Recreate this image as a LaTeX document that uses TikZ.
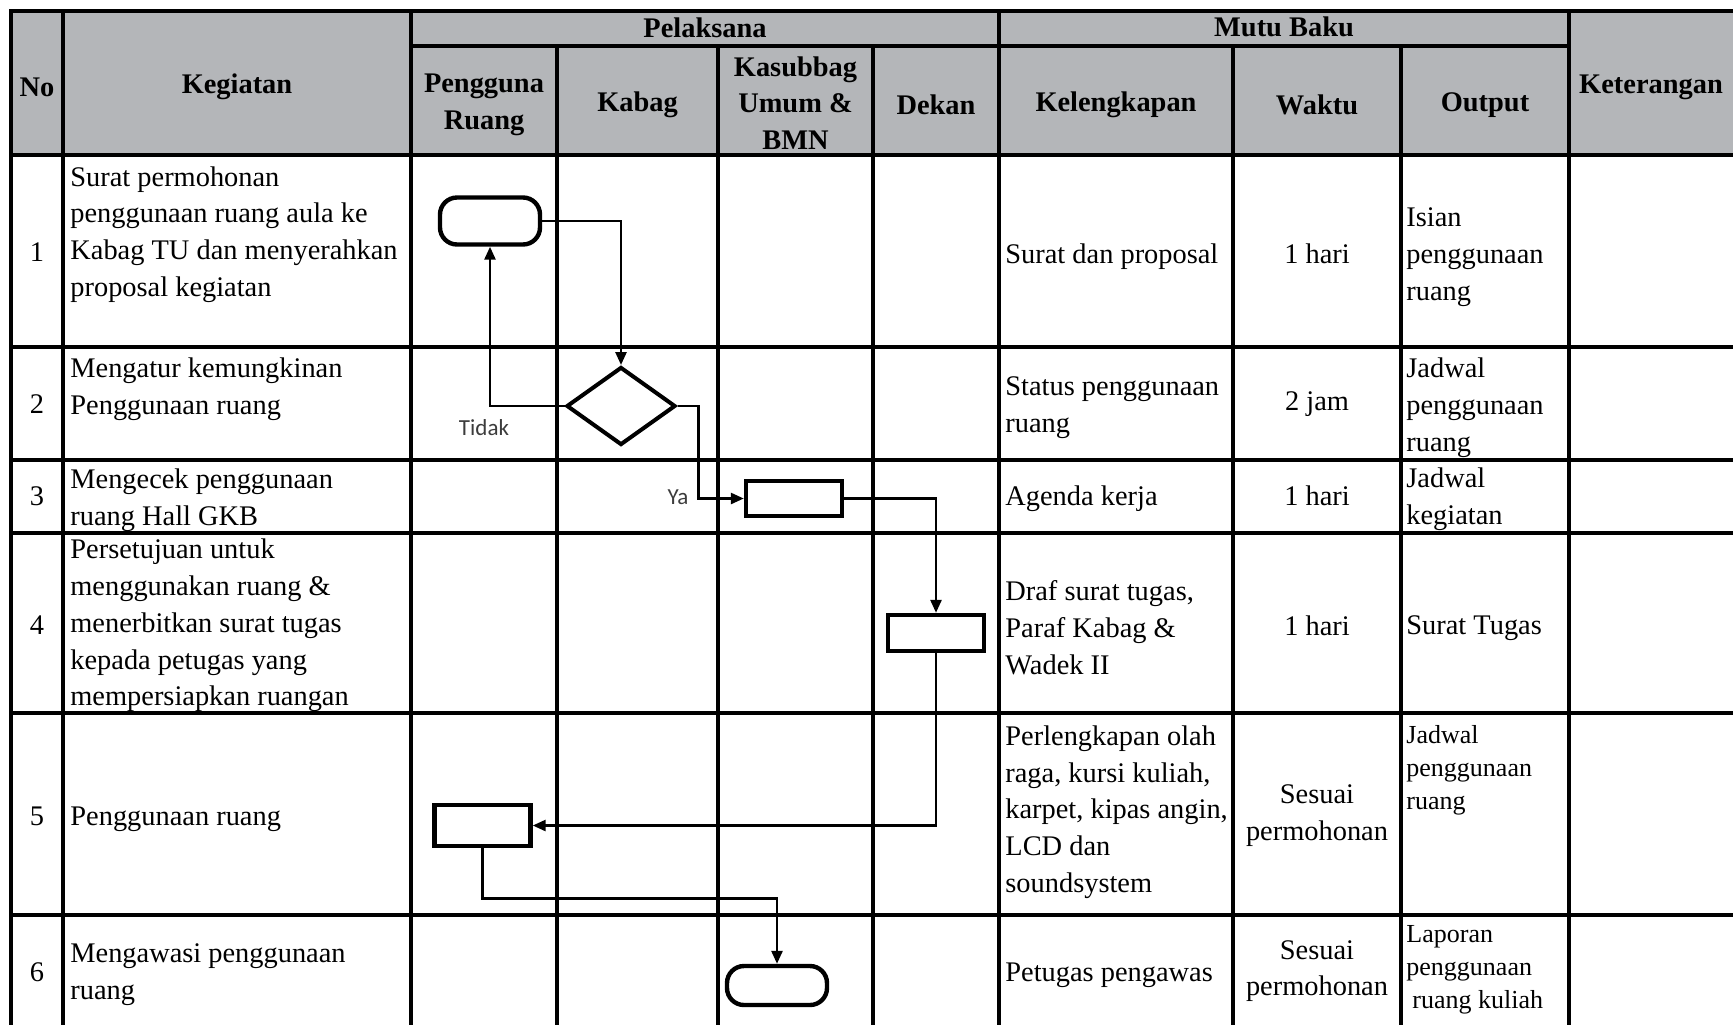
\documentclass[tikz,border=0pt]{standalone}
\usepackage{fontspec}
\setmainfont{Liberation Serif}
\newfontfamily\calibri{Carlito}
\usetikzlibrary{shapes.geometric,arrows.meta}
\definecolor{headgray}{RGB}{180,182,185}
\definecolor{labelgray}{RGB}{60,60,60}

\begin{document}
\begin{tikzpicture}[x=0.5pt,y=-0.5pt,
    grid/.style={line width=1.7pt,black,line cap=rect},
    txt/.style={inner sep=0pt,font=\fontsize{14.2}{18.4}\selectfont,align=left,anchor=west,yshift=-1.5pt},
    mid/.style={inner sep=0pt,font=\fontsize{14.2}{18.4}\selectfont,align=center},
    head/.style={mid,font=\fontsize{14.2}{18.4}\selectfont\bfseries,yshift=-2pt},
    small/.style={txt,font=\fontsize{13}{16.6}\selectfont},
    proc/.style={draw,line width=2.2pt,minimum width=48pt,minimum height=18pt,inner sep=0pt},
    term/.style={proc,rounded corners=8.5pt,minimum width=50pt},
    choice/.style={draw,diamond,line width=2pt,minimum width=54.5pt,minimum height=39pt,inner sep=0pt},
    conn/.style={line width=1.3pt,-{Triangle[length=6.5pt,width=5.5pt]}},
    lbl/.style={inner sep=0pt,font=\calibri\fontsize{11.5}{13}\selectfont,text=labelgray}]

    \useasboundingbox (0,0) rectangle (1733,1024);
    \fill[headgray] (11,11) rectangle (1733,155);

    \draw[grid] (11,11) -- (1733,11);
    \draw[grid] (411,46) -- (1569,46);
    \draw[grid] (11,155) -- (1733,155);
    \draw[grid] (11,347) -- (1733,347);
    \draw[grid] (11,460) -- (1733,460);
    \draw[grid] (11,533) -- (1733,533);
    \draw[grid] (11,713) -- (1733,713);
    \draw[grid] (11,915) -- (1733,915);

    \draw[grid] (11,11) -- (11,1024);
    \draw[grid] (63,11) -- (63,1024);
    \draw[grid] (411,11) -- (411,1024);
    \draw[grid] (557,46) -- (557,1024);
    \draw[grid] (718,46) -- (718,1024);
    \draw[grid] (873,46) -- (873,1024);
    \draw[grid] (999,11) -- (999,1024);
    \draw[grid] (1233,46) -- (1233,1024);
    \draw[grid] (1401,46) -- (1401,1024);
    \draw[grid] (1569,11) -- (1569,1024);

    % header
    \node[head] (hno) at (37,83) {No};
    \node[head] (hkeg) at (237,83) {Kegiatan};
    \node[head,yshift=2.6pt] (hpel) at (705,28.5) {Pelaksana};
    \node[head,yshift=2.6pt] (hmutu) at (1284,28.5) {Mutu Baku};
    \node[head] (hket) at (1651,83) {Keterangan};
    \node[head] (hpeng) at (484,101) {Pengguna\\Ruang};
    \node[head] (hkabag) at (637.5,101) {Kabag};
    \node[head,yshift=1.5pt] (hkasub) at (795.5,102) {Kasubbag\\Umum \&\\BMN};
    \node[head] (hdekan) at (936,101) {Dekan};
    \node[head] (hkel) at (1116,101) {Kelengkapan};
    \node[head] (hwaktu) at (1317,101) {Waktu};
    \node[head] (hout) at (1485,101) {Output};

    \node[mid] (n1) at (37,252) {1};
    \node[mid] (n2) at (37,404.5) {2};
    \node[mid] (n3) at (37,496) {3};
    \node[mid] (n4) at (37,625) {4};
    \node[mid] (n5) at (37,816) {5};
    \node[mid] (n6) at (37,972) {6};

    \node[txt] (k1) at (70,231.5) {Surat permohonan\\penggunaan ruang aula ke\\Kabag TU dan menyerahkan\\proposal kegiatan};
    \node[txt] (k2) at (70,386) {Mengatur kemungkinan\\Penggunaan ruang};
    \node[txt] (k3) at (70,497.5) {Mengecek penggunaan\\ruang Hall GKB};
    \node[txt] (k4) at (70,622.5) {Persetujuan untuk\\menggunakan ruang \&\\menerbitkan surat tugas\\kepada petugas yang\\mempersiapkan ruangan};
    \node[txt] (k5) at (70,816) {Penggunaan ruang};
    \node[txt] (k6) at (70,972) {Mengawasi penggunaan\\ruang};

    \node[txt] (l1) at (1005,254) {Surat dan proposal};
    \node[txt] (l2) at (1005,405) {Status penggunaan\\ruang};
    \node[txt] (l3) at (1005,496) {Agenda kerja};
    \node[txt] (l4) at (1005,625) {Draf surat tugas,\\Paraf Kabag \&\\Wadek II};
    \node[txt] (l5) at (1005,809) {Perlengkapan olah\\raga, kursi kuliah,\\karpet, kipas angin,\\LCD dan\\soundsystem};
    \node[txt] (l6) at (1005,972.5) {Petugas pengawas};

    \node[mid] (w1) at (1317,254) {1 hari};
    \node[mid] (w2) at (1317,404.5) {2 jam};
    \node[mid] (w3) at (1317,496) {1 hari};
    \node[mid] (w4) at (1317,625.5) {1 hari};
    \node[mid] (w5) at (1317,816) {Sesuai\\permohonan};
    \node[mid] (w6) at (1317,971) {Sesuai\\permohonan};

    \node[txt] (o1) at (1406,254) {Isian\\penggunaan\\ruang};
    \node[txt] (o2) at (1406,404.5) {Jadwal\\penggunaan\\ruang};
    \node[txt] (o3) at (1406,496) {Jadwal\\kegiatan};
    \node[txt] (o4) at (1406,625.5) {Surat Tugas};
    \node[small] (o5) at (1406,767.5) {Jadwal\\penggunaan\\ruang};
    \node[small] (o6) at (1406,967) {Laporan\\penggunaan\\\hspace*{3pt}ruang kuliah};

    % flow
    \node[term,minimum height=23.5pt] (mulai) at (490,221) {};
    \node[choice] (cek) at (621,406) {};
    \node[proc,minimum height=17.5pt] (agenda) at (794,498.5) {};
    \node[proc] (setuju) at (936,633) {};
    \node[proc,minimum height=20.5pt] (pakai) at (482.5,825.5) {};
    \node[term,minimum height=19.5pt] (selesai) at (777,985.5) {};

    \draw[conn] (mulai.east) -| (cek.north);
    \draw[conn] (cek.west) -| (mulai.south);
    \draw[conn] (cek.east) -- ++(21,0) |- (agenda.west);
    \draw[conn] (agenda.east) -| (setuju.north);
    \draw[conn] (setuju.south) |- (pakai.east);
    \draw[conn] (pakai.south) -- ++(0,50) -| (selesai.north);

    \node[lbl] (tidak) at (484,428) {Tidak};
    \node[lbl] (ya) at (678,497) {Ya};
\end{tikzpicture}
\end{document}
